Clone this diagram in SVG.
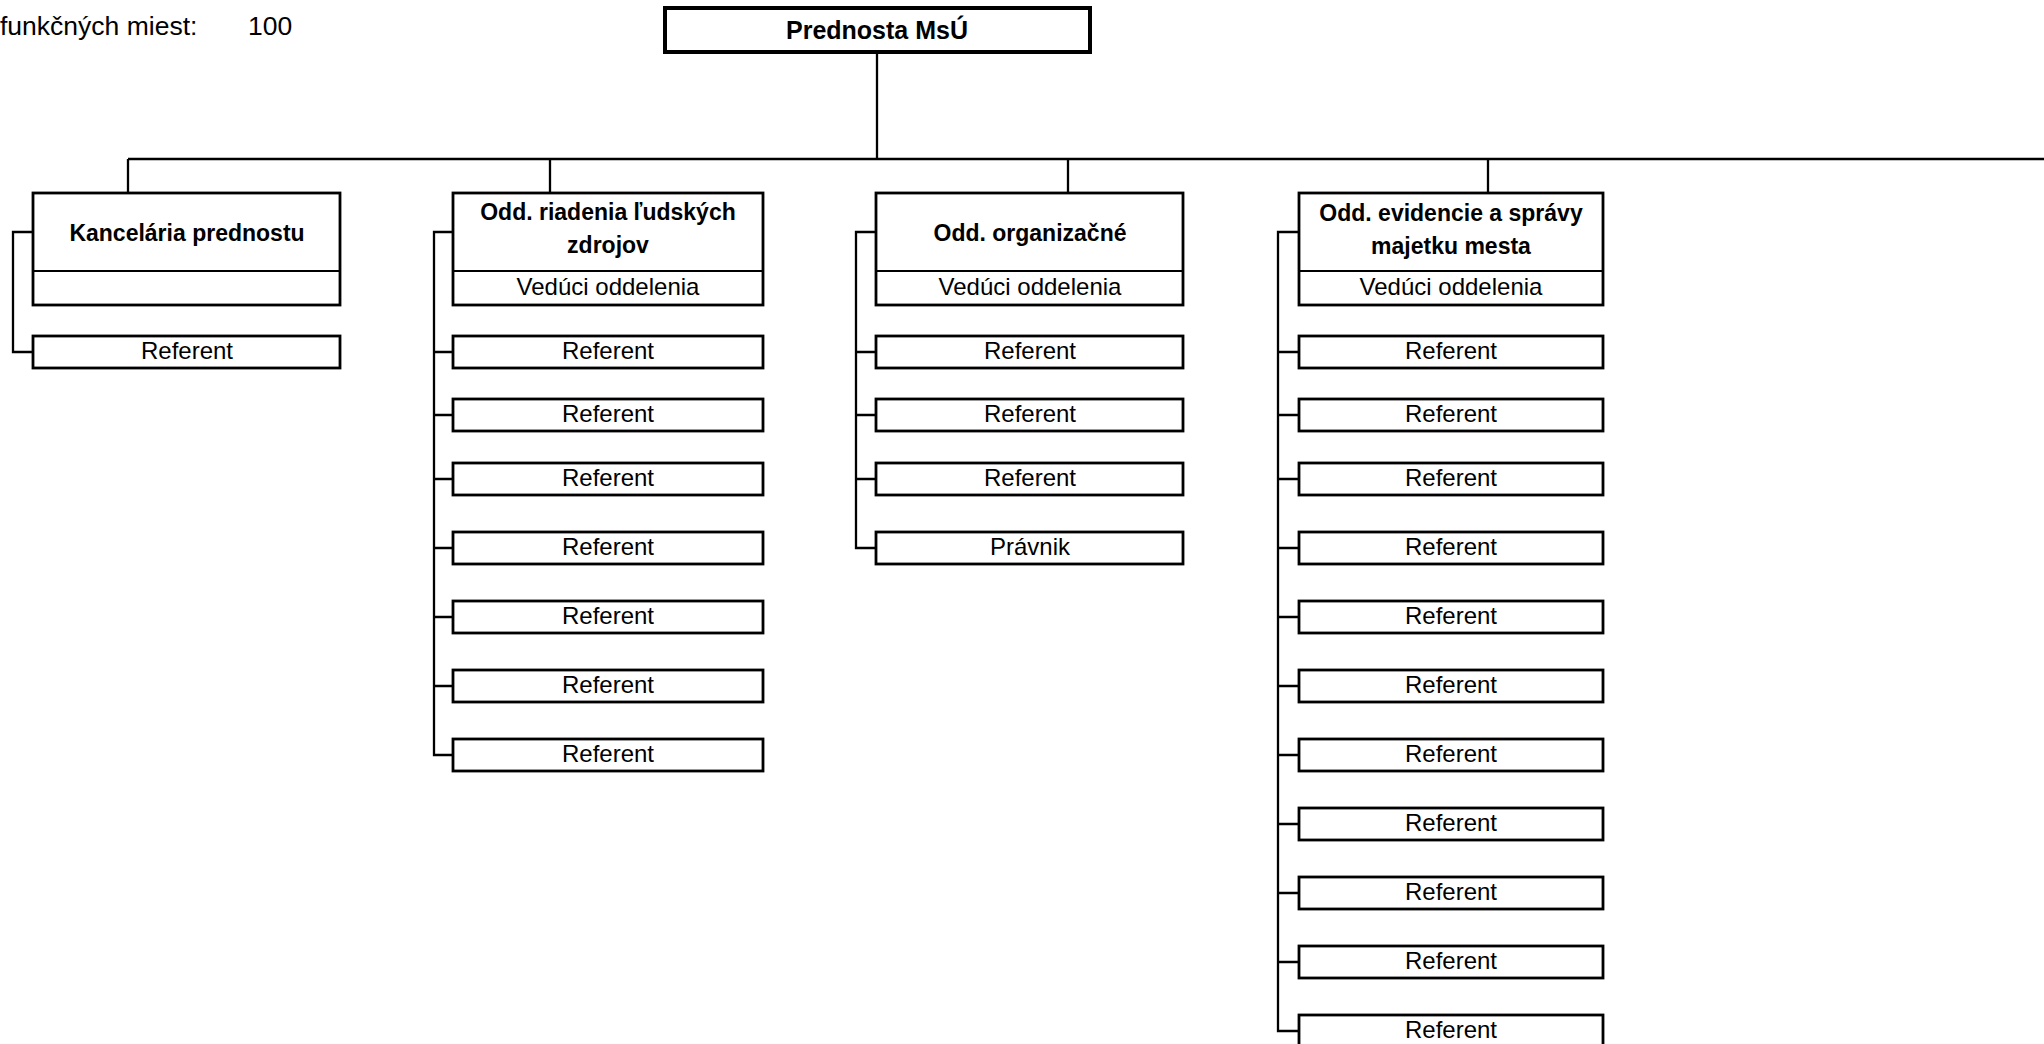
<svg xmlns="http://www.w3.org/2000/svg" width="2044" height="1044" viewBox="0 0 2044 1044">
<style>
  .bg { fill: #ffffff; }
  .box { fill: #ffffff; stroke: #000; stroke-width: 2.8; }
  .top { fill: #ffffff; stroke: #000; stroke-width: 4; }
  .div { stroke: #000; stroke-width: 2.2; }
  .con { fill: none; stroke: #000; stroke-width: 2.3; }
  text { font-family: "Liberation Sans", Arial, sans-serif; fill: #000; }
  .t { font-size: 24px; text-anchor: middle; }
  .b { font-size: 23px; font-weight: bold; text-anchor: middle; }
  .bt { font-size: 25px; font-weight: bold; text-anchor: middle; }
  .hdr { font-size: 26.5px; }
</style>
<rect class="bg" x="0" y="0" width="2044" height="1044"/>

<g id="header">
  <text class="hdr" x="0" y="35">funkčných miest:</text>
  <text class="hdr" x="248" y="35">100</text>
</g>

<g id="connectors">
  <path class="con" d="M877 52 V159 M128 159 H2044"/>
  <path class="con" d="M128 159 V193 M550 159 V193 M1068 159 V193 M1488 159 V193"/>
  <path class="con" d="M33 232 H13 V352 H33"/>
  <path class="con" d="M453 232 H434 V755 H453 M434 352 H453 M434 415 H453 M434 479 H453 M434 548 H453 M434 617 H453 M434 686 H453"/>
  <path class="con" d="M876 232 H856 V548 H876 M856 352 H876 M856 415 H876 M856 479 H876"/>
  <path class="con" d="M1299 232 H1278 V1031 H1299 M1278 352 H1299 M1278 415 H1299 M1278 479 H1299 M1278 548 H1299 M1278 617 H1299 M1278 686 H1299 M1278 755 H1299 M1278 824 H1299 M1278 893 H1299 M1278 962 H1299"/>
</g>

<g id="prednosta">
  <rect class="top" x="665" y="8" width="425" height="44"/>
  <text class="bt" x="877" y="39">Prednosta MsÚ</text>
</g>

<g id="kancelaria">
  <rect class="box" x="33" y="193" width="307" height="112"/>
  <line class="div" x1="33" y1="271" x2="340" y2="271"/>
  <text class="b" x="187" y="241">Kancelária prednostu</text>
</g>
<g id="kancelaria-ref1">
  <rect class="box" x="33" y="336" width="307" height="32"/>
  <text class="t" x="187" y="359">Referent</text>
</g>

<g id="riadenia">
  <rect class="box" x="453" y="193" width="310" height="112"/>
  <line class="div" x1="453" y1="271" x2="763" y2="271"/>
  <text class="b" x="608" y="220">Odd. riadenia ľudských</text>
  <text class="b" x="608" y="253">zdrojov</text>
  <text class="t" x="608" y="295">Vedúci oddelenia</text>
</g>
<g id="riadenia-ref1"><rect class="box" x="453" y="336" width="310" height="32"/><text class="t" x="608" y="359">Referent</text></g>
<g id="riadenia-ref2"><rect class="box" x="453" y="399" width="310" height="32"/><text class="t" x="608" y="422">Referent</text></g>
<g id="riadenia-ref3"><rect class="box" x="453" y="463" width="310" height="32"/><text class="t" x="608" y="486">Referent</text></g>
<g id="riadenia-ref4"><rect class="box" x="453" y="532" width="310" height="32"/><text class="t" x="608" y="555">Referent</text></g>
<g id="riadenia-ref5"><rect class="box" x="453" y="601" width="310" height="32"/><text class="t" x="608" y="624">Referent</text></g>
<g id="riadenia-ref6"><rect class="box" x="453" y="670" width="310" height="32"/><text class="t" x="608" y="693">Referent</text></g>
<g id="riadenia-ref7"><rect class="box" x="453" y="739" width="310" height="32"/><text class="t" x="608" y="762">Referent</text></g>

<g id="organizacne">
  <rect class="box" x="876" y="193" width="307" height="112"/>
  <line class="div" x1="876" y1="271" x2="1183" y2="271"/>
  <text class="b" x="1030" y="241">Odd. organizačné</text>
  <text class="t" x="1030" y="295">Vedúci oddelenia</text>
</g>
<g id="organizacne-ref1"><rect class="box" x="876" y="336" width="307" height="32"/><text class="t" x="1030" y="359">Referent</text></g>
<g id="organizacne-ref2"><rect class="box" x="876" y="399" width="307" height="32"/><text class="t" x="1030" y="422">Referent</text></g>
<g id="organizacne-ref3"><rect class="box" x="876" y="463" width="307" height="32"/><text class="t" x="1030" y="486">Referent</text></g>
<g id="organizacne-pravnik"><rect class="box" x="876" y="532" width="307" height="32"/><text class="t" x="1030" y="555">Právnik</text></g>

<g id="evidencie">
  <rect class="box" x="1299" y="193" width="304" height="112"/>
  <line class="div" x1="1299" y1="271" x2="1603" y2="271"/>
  <text class="b" x="1451" y="221">Odd. evidencie a správy</text>
  <text class="b" x="1451" y="254">majetku mesta</text>
  <text class="t" x="1451" y="295">Vedúci oddelenia</text>
</g>
<g id="evidencie-ref1"><rect class="box" x="1299" y="336" width="304" height="32"/><text class="t" x="1451" y="359">Referent</text></g>
<g id="evidencie-ref2"><rect class="box" x="1299" y="399" width="304" height="32"/><text class="t" x="1451" y="422">Referent</text></g>
<g id="evidencie-ref3"><rect class="box" x="1299" y="463" width="304" height="32"/><text class="t" x="1451" y="486">Referent</text></g>
<g id="evidencie-ref4"><rect class="box" x="1299" y="532" width="304" height="32"/><text class="t" x="1451" y="555">Referent</text></g>
<g id="evidencie-ref5"><rect class="box" x="1299" y="601" width="304" height="32"/><text class="t" x="1451" y="624">Referent</text></g>
<g id="evidencie-ref6"><rect class="box" x="1299" y="670" width="304" height="32"/><text class="t" x="1451" y="693">Referent</text></g>
<g id="evidencie-ref7"><rect class="box" x="1299" y="739" width="304" height="32"/><text class="t" x="1451" y="762">Referent</text></g>
<g id="evidencie-ref8"><rect class="box" x="1299" y="808" width="304" height="32"/><text class="t" x="1451" y="831">Referent</text></g>
<g id="evidencie-ref9"><rect class="box" x="1299" y="877" width="304" height="32"/><text class="t" x="1451" y="900">Referent</text></g>
<g id="evidencie-ref10"><rect class="box" x="1299" y="946" width="304" height="32"/><text class="t" x="1451" y="969">Referent</text></g>
<g id="evidencie-ref11"><rect class="box" x="1299" y="1015" width="304" height="34"/><text class="t" x="1451" y="1038">Referent</text></g>
</svg>
